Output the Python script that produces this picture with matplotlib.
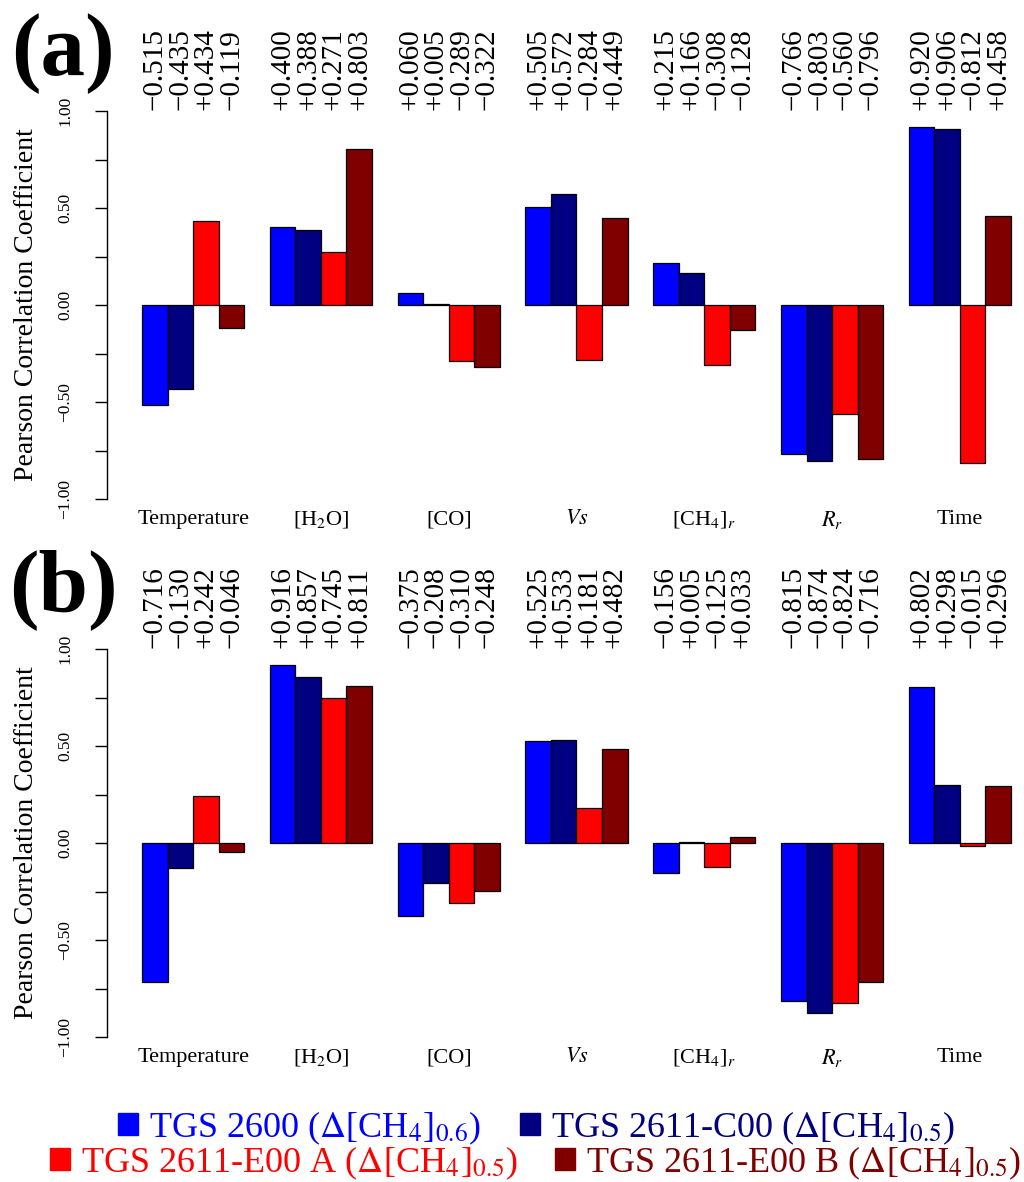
import matplotlib
matplotlib.use("Agg")
import matplotlib.pyplot as plt
from matplotlib.patches import Patch
from matplotlib.ticker import FixedLocator
import numpy as np

plt.rcParams['font.family'] = ['Liberation Serif', 'DejaVu Serif']
plt.rcParams['mathtext.fontset'] = 'stix'

categories = ["Temperature", "[H$_2$O]", "[CO]", "$\\mathit{Vs}$", "[CH$_4$]$_r$", "$R_r$", "Time"]
series_names = ["TGS 2600 ($\\Delta$[CH$_4$]$_{0.6}$)",
                "TGS 2611-C00 ($\\Delta$[CH$_4$]$_{0.5}$)",
                "TGS 2611-E00 A ($\\Delta$[CH$_4$]$_{0.5}$)",
                "TGS 2611-E00 B ($\\Delta$[CH$_4$]$_{0.5}$)"]
colors = ["#0000FF", "#000080", "#FF0000", "#800000"]

# panel (a): one list per series, values per category
a_tgs2600 = [-0.515, 0.400, 0.060, 0.505, 0.215, -0.766, 0.920]
a_c00 = [-0.435, 0.388, 0.005, 0.572, 0.166, -0.803, 0.906]
a_e00a = [0.434, 0.271, -0.289, -0.284, -0.308, -0.560, -0.812]
a_e00b = [-0.119, 0.803, -0.322, 0.449, -0.128, -0.796, 0.458]

# panel (b)
b_tgs2600 = [-0.716, 0.916, -0.375, 0.525, -0.156, -0.815, 0.802]
b_c00 = [-0.130, 0.857, -0.208, 0.533, 0.005, -0.874, 0.298]
b_e00a = [0.242, 0.745, -0.310, 0.181, -0.125, -0.824, -0.015]
b_e00b = [-0.046, 0.811, -0.248, 0.482, 0.033, -0.716, 0.296]

ytick_vals = [-1.0, -0.5, 0.0, 0.5, 1.0]
ytick_labels = ["\u22121.00", "\u22120.50", "0.00", "0.50", "1.00"]

W, H = 1024, 1182
fig = plt.figure(figsize=(W / 100, H / 100), dpi=100)

def fmt(v):
    s = "%.3f" % abs(v)
    return ("+" if v >= 0 else "\u2212") + s

def panel(ax, series, letter, letter_y):
    for i, vals in enumerate(series):
        x = np.arange(len(categories)) * 5 + 1 + i
        ax.bar(x, vals, width=1.0, align='edge', color=colors[i],
               edgecolor='black', linewidth=0.9)
        for xi, v in zip(x, vals):
            ax.annotate(fmt(v), xy=(xi + 0.5, 1.0), xycoords=('data', 'axes fraction'),
                        xytext=(0, 0.5), textcoords='offset points',
                        rotation=90, ha='center', va='bottom', fontsize=21)
    for g, c in enumerate(categories):
        ax.annotate(c, xy=(g * 5 + 3, 0), xycoords=('data', 'axes fraction'),
                    xytext=(0, -15), textcoords='offset points',
                    ha='center', va='center', fontsize=16)
    x_left = 1 - (142 - 107) / 25.56
    x_right = 35 + (1020 - 1011) / 25.56
    ax.set_xlim(x_left, x_right)
    ax.set_ylim(-1, 1)
    for s in ['top', 'right', 'bottom']:
        ax.spines[s].set_visible(False)
    ax.spines['left'].set_bounds(-1, 1)
    ax.spines['left'].set_linewidth(1.0)
    ax.set_xticks([])
    ax.set_yticks(ytick_vals)
    ax.set_yticklabels(ytick_labels, fontsize=12.5)
    ax.yaxis.set_minor_locator(FixedLocator([-0.75, -0.25, 0.25, 0.75]))
    ax.tick_params(axis='y', which='both', length=8.5, width=1.0, pad=16)
    for lbl in ax.get_yticklabels():
        lbl.set_rotation(90)
        lbl.set_va('center')
        lbl.set_ha('right')
    fig.text(27 / W, (ax.get_position().y0 + ax.get_position().y1) / 2,
             "Pearson Correlation Coefficient", rotation=90,
             ha='center', va='center', fontsize=20)
    fig.text(63 / W, 1 - letter_y / H, letter, ha='center', va='center',
             fontsize=64, fontweight='bold')

left = 107 / W
right = 1020 / W
ax1 = fig.add_axes([left, 1 - 499 / H, right - left, (499 - 111) / H])
ax2 = fig.add_axes([left, 1 - 1037 / H, right - left, (1037 - 649) / H])
panel(ax1, [a_tgs2600, a_c00, a_e00a, a_e00b], "(a)", 54)
panel(ax2, [b_tgs2600, b_c00, b_e00a, b_e00b], "(b)", 590)

def legend_entry(i, x, y):
    h = [Patch(facecolor=colors[i], edgecolor=colors[i])]
    leg = fig.legend(h, [series_names[i]], loc='center left',
                     bbox_to_anchor=(x / W, 1 - y / H), borderaxespad=0,
                     borderpad=0, frameon=False, fontsize=26, handlelength=0.55,
                     handleheight=0.55, handletextpad=0.3)
    leg.get_texts()[0].set_color(colors[i])
    return leg

legend_entry(0, 118, 1128)
legend_entry(1, 520, 1128)
legend_entry(2, 50, 1163)
legend_entry(3, 555, 1163)

fig.savefig("out.png", dpi=100)
